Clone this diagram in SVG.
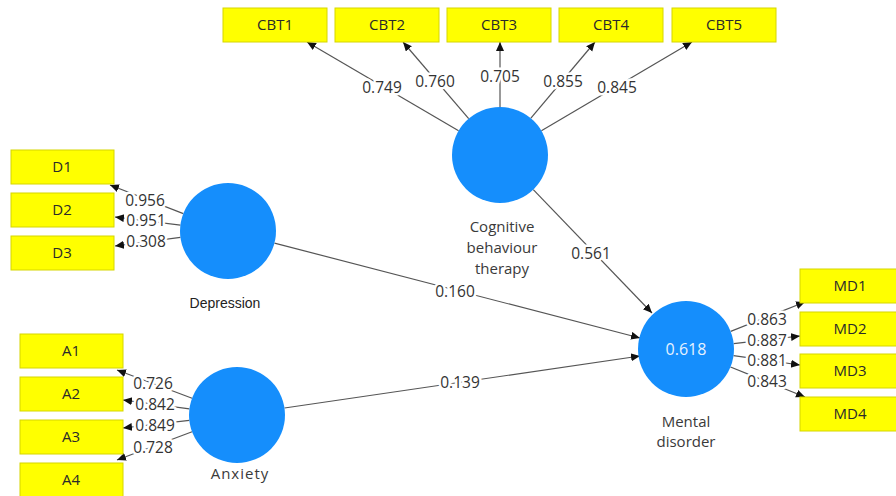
<svg xmlns="http://www.w3.org/2000/svg" width="896" height="496" viewBox="0 0 896 496">
<defs>
<marker id="arr" markerUnits="userSpaceOnUse" markerWidth="10" markerHeight="10" refX="9" refY="4" orient="auto">
<path d="M0,0 L9,4 L0,8 z" fill="#111"/>
</marker>
<style>
.box{fill:#ffff00;stroke:#d6d600;stroke-width:1}
.lv{fill:#158efc}
.bt{font-family:"Open Sans","Noto Sans",sans-serif;font-size:15px;fill:#2a2a2a;text-anchor:middle}
.cl{font-family:"Open Sans","Noto Sans",sans-serif;font-size:15.5px;fill:#333;text-anchor:middle;stroke:#fff;stroke-width:5px;paint-order:stroke;stroke-linejoin:round}
.nl{font-family:"Open Sans","Noto Sans",sans-serif;font-size:15px;fill:#3a3a3a;text-anchor:middle}
.la{stroke:#555;stroke-width:1.2;fill:none;marker-end:url(#arr)}
</style>
</defs>
<rect width="896" height="496" fill="#fff"/>

<g id="connectors">
<line class="la" x1="458.6" y1="130.7" x2="307" y2="42"/>
<line class="la" x1="468.7" y1="118.6" x2="403" y2="42"/>
<line class="la" x1="500" y1="107" x2="500" y2="42"/>
<line class="la" x1="530.9" y1="118.2" x2="595" y2="42"/>
<line class="la" x1="541.4" y1="130.7" x2="692" y2="42"/>
<line class="la" x1="183.3" y1="213.6" x2="110" y2="185"/>
<line class="la" x1="180.4" y1="225.1" x2="115" y2="217"/>
<line class="la" x1="180.4" y1="237.3" x2="115" y2="246"/>
<line class="la" x1="192.1" y1="398.2" x2="117" y2="370"/>
<line class="la" x1="189.4" y1="408.8" x2="123" y2="400"/>
<line class="la" x1="189.3" y1="420.4" x2="123" y2="428"/>
<line class="la" x1="192.1" y1="431.8" x2="117" y2="460"/>
<line class="la" x1="730.7" y1="331.4" x2="805" y2="302"/>
<line class="la" x1="733.7" y1="343.6" x2="800" y2="336"/>
<line class="la" x1="733.5" y1="355.7" x2="800" y2="365"/>
<line class="la" x1="730.5" y1="367" x2="805" y2="397"/>
<line class="la" x1="274.5" y1="243.1" x2="640" y2="338"/>
<line class="la" x1="284.5" y1="408" x2="640" y2="356"/>
<line class="la" x1="533.3" y1="189.6" x2="652" y2="313"/>
<text class="cl" x="382" y="93">0.749</text>
<text class="cl" x="435" y="87">0.760</text>
<text class="cl" x="500" y="82">0.705</text>
<text class="cl" x="563" y="87">0.855</text>
<text class="cl" x="617" y="93">0.845</text>
<text class="cl" x="145" y="206">0.956</text>
<text class="cl" x="146" y="226">0.951</text>
<text class="cl" x="146" y="247">0.308</text>
<text class="cl" x="153" y="389">0.726</text>
<text class="cl" x="155" y="410">0.842</text>
<text class="cl" x="155" y="431">0.849</text>
<text class="cl" x="153" y="453">0.728</text>
<text class="cl" x="767" y="325">0.863</text>
<text class="cl" x="767" y="346">0.887</text>
<text class="cl" x="767" y="366">0.881</text>
<text class="cl" x="767" y="387">0.843</text>
<text class="cl" x="455" y="297">0.160</text>
<text class="cl" x="460" y="388">0.139</text>
<text class="cl" x="591" y="259">0.561</text>
</g>

<g id="CBT1"><rect class="box" x="223" y="8" width="104" height="34"/><text class="bt" x="275" y="30">CBT1</text></g>
<g id="CBT2"><rect class="box" x="335" y="8" width="104" height="34"/><text class="bt" x="387" y="30">CBT2</text></g>
<g id="CBT3"><rect class="box" x="447" y="8" width="104" height="34"/><text class="bt" x="499" y="30">CBT3</text></g>
<g id="CBT4"><rect class="box" x="559" y="8" width="104" height="34"/><text class="bt" x="611" y="30">CBT4</text></g>
<g id="CBT5"><rect class="box" x="672" y="8" width="104" height="34"/><text class="bt" x="724" y="30">CBT5</text></g>

<g id="D1"><rect class="box" x="11" y="150" width="103" height="34"/><text class="bt" x="62" y="172">D1</text></g>
<g id="D2"><rect class="box" x="11" y="193" width="103" height="34"/><text class="bt" x="62" y="215">D2</text></g>
<g id="D3"><rect class="box" x="11" y="236" width="103" height="34"/><text class="bt" x="62" y="258">D3</text></g>

<g id="A1"><rect class="box" x="20" y="334" width="103" height="34"/><text class="bt" x="71" y="356">A1</text></g>
<g id="A2"><rect class="box" x="20" y="377" width="103" height="34"/><text class="bt" x="71" y="399">A2</text></g>
<g id="A3"><rect class="box" x="20" y="420" width="103" height="34"/><text class="bt" x="71" y="442">A3</text></g>
<g id="A4"><rect class="box" x="20" y="463" width="103" height="34"/><text class="bt" x="71" y="485">A4</text></g>

<g id="MD1"><rect class="box" x="800" y="269" width="104" height="34"/><text class="bt" x="850" y="291">MD1</text></g>
<g id="MD2"><rect class="box" x="800" y="312" width="104" height="34"/><text class="bt" x="850" y="334">MD2</text></g>
<g id="MD3"><rect class="box" x="800" y="354" width="104" height="34"/><text class="bt" x="850" y="376">MD3</text></g>
<g id="MD4"><rect class="box" x="800" y="397" width="104" height="34"/><text class="bt" x="850" y="419">MD4</text></g>

<g id="CBT">
<circle class="lv" cx="500" cy="155" r="48"/>
<text class="nl" x="502" y="232">Cognitive</text>
<text class="nl" x="502" y="253">behaviour</text>
<text class="nl" x="502" y="274">therapy</text>
</g>
<g id="Depression">
<circle class="lv" cx="228" cy="231" r="48"/>
<text x="225" y="308" font-family="Liberation Sans, Arial, sans-serif" font-size="14" fill="#222" text-anchor="middle">Depression</text>
</g>
<g id="Anxiety">
<circle class="lv" cx="237" cy="415" r="48"/>
<text class="nl" x="240" y="479" letter-spacing="1">Anxiety</text>
</g>
<g id="MentalDisorder">
<circle class="lv" cx="686" cy="349" r="48"/>
<text x="686" y="355" font-family="Open Sans, Noto Sans, sans-serif" font-size="16" fill="#e6f2ff" text-anchor="middle">0.618</text>
<text class="nl" x="686" y="427">Mental</text>
<text class="nl" x="686" y="447">disorder</text>
</g>
</svg>
